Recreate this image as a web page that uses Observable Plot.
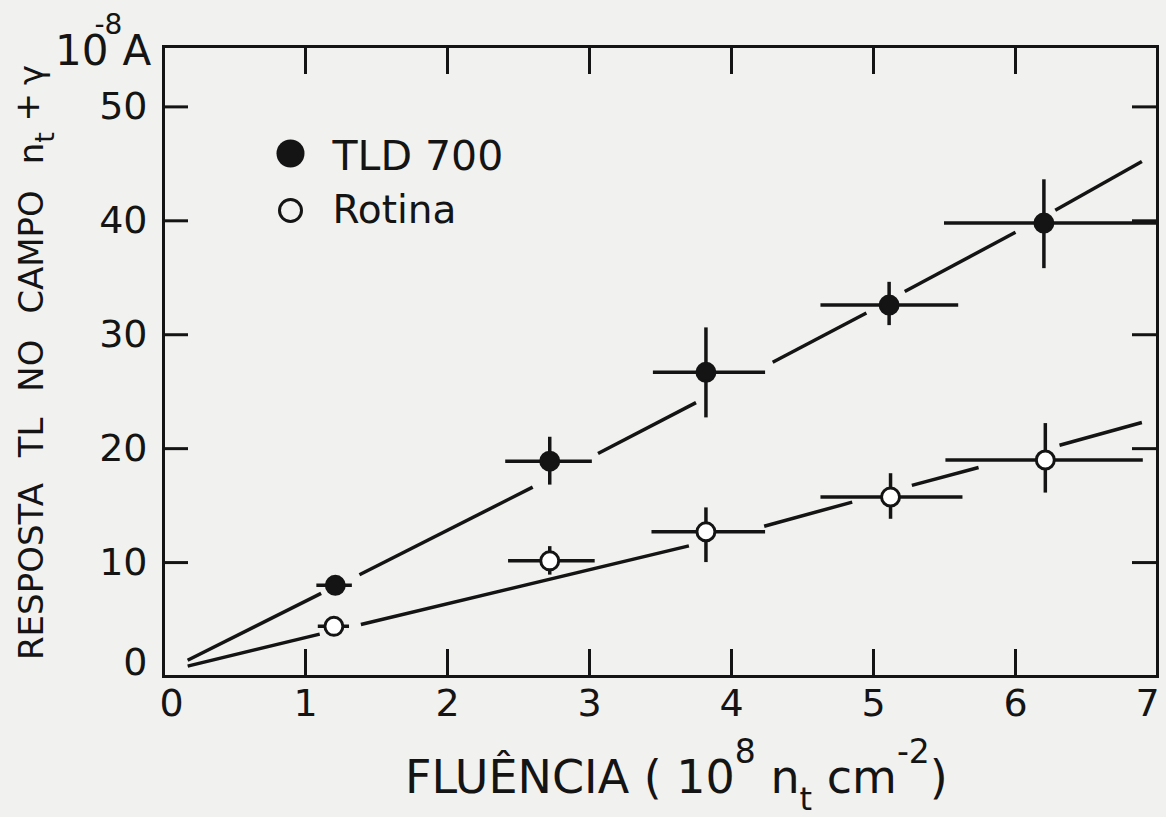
<!DOCTYPE html>
<html><head><meta charset="utf-8">
<script src="https://cdn.jsdelivr.net/npm/d3@7"></script>
<script src="https://cdn.jsdelivr.net/npm/@observablehq/plot@0.6"></script>
<style>
html,body{margin:0;padding:0;background:#f1f1ef;}
#chart svg{display:block;}
</style></head><body><div id="chart"></div>
<script>
// ---- data ----
const xTicks = [0, 1, 2, 3, 4, 5, 6, 7];
const yTicks = [0, 10, 20, 30, 40, 50];
const seriesNames = ["TLD 700", "Rotina"];

// TLD 700 (filled circles)
const tldX   = [1.21, 2.72, 3.82, 5.11, 6.20];
const tldY   = [8.0, 18.9, 26.7, 32.6, 39.8];
const tldXLo = [1.08, 2.41, 3.45, 4.63, 5.50];
const tldXHi = [1.33, 3.02, 4.24, 5.60, 7.00];
const tldYLo = [null, 16.8, 22.7, 30.8, 35.8];
const tldYHi = [null, 21.0, 30.6, 34.6, 43.6];

// Rotina (open circles)
const rotX   = [1.20, 2.72, 3.82, 5.12, 6.21];
const rotY   = [4.4, 10.15, 12.7, 15.75, 19.0];
const rotXLo = [1.09, 2.43, 3.44, 4.63, 5.51];
const rotXHi = [1.31, 3.04, 4.24, 5.63, 6.90];
const rotYLo = [null, 8.9, 10.0, 13.8, 16.1];
const rotYHi = [null, 11.4, 14.8, 17.8, 22.2];

// fitted straight lines, drawn as broken pieces between the error crosses: [x1, y1, x2, y2]
const tldLine = [
  [0.17, 1.43, 1.11, 7.30], [1.38, 8.93, 2.60, 16.62], [3.06, 19.58, 3.75, 24.04],
  [4.29, 27.58, 4.95, 31.91], [5.22, 33.80, 6.00, 38.99], [6.28, 40.92, 6.89, 45.2]
];
const rotLine = [
  [0.17, 0.91, 1.10, 3.72], [1.39, 4.56, 3.70, 11.47], [4.23, 13.19, 4.85, 15.31],
  [5.27, 16.78, 5.74, 18.35], [6.31, 20.30, 6.89, 22.3]
];

// ---- build tables ----
function rows(name, X, Y, XLo, XHi, YLo, YHi) {
  return X.map((x, i) => ({series: name, x, y: Y[i], xLo: XLo[i], xHi: XHi[i], yLo: YLo[i], yHi: YHi[i]}));
}
const points = [
  ...rows(seriesNames[0], tldX, tldY, tldXLo, tldXHi, tldYLo, tldYHi),
  ...rows(seriesNames[1], rotX, rotY, rotXLo, rotXHi, rotYLo, rotYHi)
];
const segs = [
  ...tldLine.map(s => ({series: seriesNames[0], x1: s[0], y1: s[1], x2: s[2], y2: s[3]})),
  ...rotLine.map(s => ({series: seriesNames[1], x1: s[0], y1: s[1], x2: s[2], y2: s[3]}))
];

const INK = "#141414";
const FONT = "DejaVu Sans, sans-serif";
const W = 1166, H = 817, mL = 163, mR = 9, mT = 46, mB = 141;
const plotW = W - mL - mR, plotH = H - mT - mB;
const innerX = xTicks.filter(d => d > 0 && d < 7);
const innerY = yTicks.filter(d => d > 0);

const chart = Plot.plot({
  width: W, height: H,
  marginLeft: mL, marginRight: mR, marginTop: mT, marginBottom: mB,
  style: {background: "transparent", fontFamily: FONT, color: INK, overflow: "visible"},
  x: {domain: [0, 7], axis: null},
  y: {domain: [0, 55.3], axis: null},
  marks: [
    Plot.frame({stroke: INK, strokeWidth: 3}),
    // inward ticks
    Plot.tickY(innerY, {y: d => d, insetRight: plotW - 25, stroke: INK, strokeWidth: 3}),
    Plot.tickY(innerY, {y: d => d, insetLeft: plotW - 25, stroke: INK, strokeWidth: 3}),
    Plot.tickX(innerX, {x: d => d, insetTop: plotH - 27, stroke: INK, strokeWidth: 3}),
    Plot.tickX(innerX, {x: d => d, insetBottom: plotH - 28, stroke: INK, strokeWidth: 3}),
    // tick labels
    Plot.text(innerY, {y: d => d, frameAnchor: "left", lineAnchor: "middle", dx: -16, textAnchor: "end", fontSize: 38, fill: INK}),
    Plot.text([0], {y: d => d, frameAnchor: "left", lineAnchor: "middle", dx: -16, dy: -14, textAnchor: "end", fontSize: 38, fill: INK}),
    Plot.text(innerX, {x: d => d, frameAnchor: "bottom", lineAnchor: "middle", dy: 27, fontSize: 38, fill: INK}),
    Plot.text([0], {x: d => d, frameAnchor: "bottom", lineAnchor: "middle", dx: 8, dy: 27, fontSize: 38, fill: INK}),
    Plot.text([7], {x: d => d, frameAnchor: "bottom", lineAnchor: "middle", dx: -10, dy: 27, fontSize: 38, fill: INK}),
    // fitted lines
    Plot.link(segs, {x1: "x1", y1: "y1", x2: "x2", y2: "y2", stroke: INK, strokeWidth: 3.5, strokeLinecap: "butt"}),
    // error bars
    Plot.ruleY(points, {y: "y", x1: "xLo", x2: "xHi", stroke: INK, strokeWidth: 3.5}),
    Plot.ruleX(points.filter(d => d.yLo != null), {x: "x", y1: "yLo", y2: "yHi", stroke: INK, strokeWidth: 3.5}),
    // points
    Plot.dot(points, {x: "x", y: "y", r: 9, stroke: INK, strokeWidth: 3,
      fill: d => d.series === seriesNames[0] ? INK : "#ffffff"}),
    // legend
    Plot.dot([seriesNames[0]], {frameAnchor: "top-left", dx: 127, dy: 107, r: 14, fill: INK}),
    Plot.dot([seriesNames[1]], {frameAnchor: "top-left", dx: 127, dy: 164, r: 11, fill: "none", stroke: INK, strokeWidth: 3}),
    Plot.text([seriesNames[0]], {text: d => d, frameAnchor: "top-left", lineAnchor: "middle", dx: 169, dy: 110, textAnchor: "start", fontSize: 41, fill: INK}),
    Plot.text([seriesNames[1]], {text: d => d, frameAnchor: "top-left", lineAnchor: "middle", dx: 169, dy: 164, textAnchor: "start", fontSize: 39, fill: INK})
  ]
});

document.getElementById("chart").appendChild(chart);

// ---- titles with super/subscripts ----
const svg = d3.select(chart);
const xt = svg.append("text").attr("x", 405).attr("y", 793).attr("text-anchor", "start")
  .attr("font-family", FONT).attr("font-size", 46).attr("fill", INK).style("white-space", "pre");
xt.append("tspan").text("FLUÊNCIA ( 10");
xt.append("tspan").attr("dy", -30).attr("font-size", 33).text("8");
xt.append("tspan").attr("dy", 30).text(" n");
xt.append("tspan").attr("dy", 17).attr("font-size", 32).text("t");
xt.append("tspan").attr("dy", -17).text(" cm");
xt.append("tspan").attr("dy", -30).attr("font-size", 33).text("-2");
xt.append("tspan").attr("dy", 30).text(")");

const yt = svg.append("text").attr("transform", "translate(43,660) rotate(-90)").attr("text-anchor", "start")
  .attr("font-family", FONT).attr("font-size", 34).attr("fill", INK)
  .style("white-space", "pre");
yt.append("tspan").attr("word-spacing", 15).text("RESPOSTA TL NO CAMPO n");
yt.append("tspan").attr("dy", 11).attr("font-size", 27).text("t");
yt.append("tspan").attr("dy", -15).text(" +");
yt.append("tspan").attr("dy", 4).attr("dx", 8).text("γ");

const ut = svg.append("text").attr("x", 55).attr("y", 65).attr("text-anchor", "start")
  .attr("font-family", FONT).attr("font-size", 42).attr("fill", INK).style("white-space", "pre");
ut.append("tspan").text("10");
ut.append("tspan").attr("dx", -14).attr("dy", -31).attr("font-size", 28).text("-8");
ut.append("tspan").attr("dx", 0).attr("dy", 31).text("A");
</script>
</body></html>
